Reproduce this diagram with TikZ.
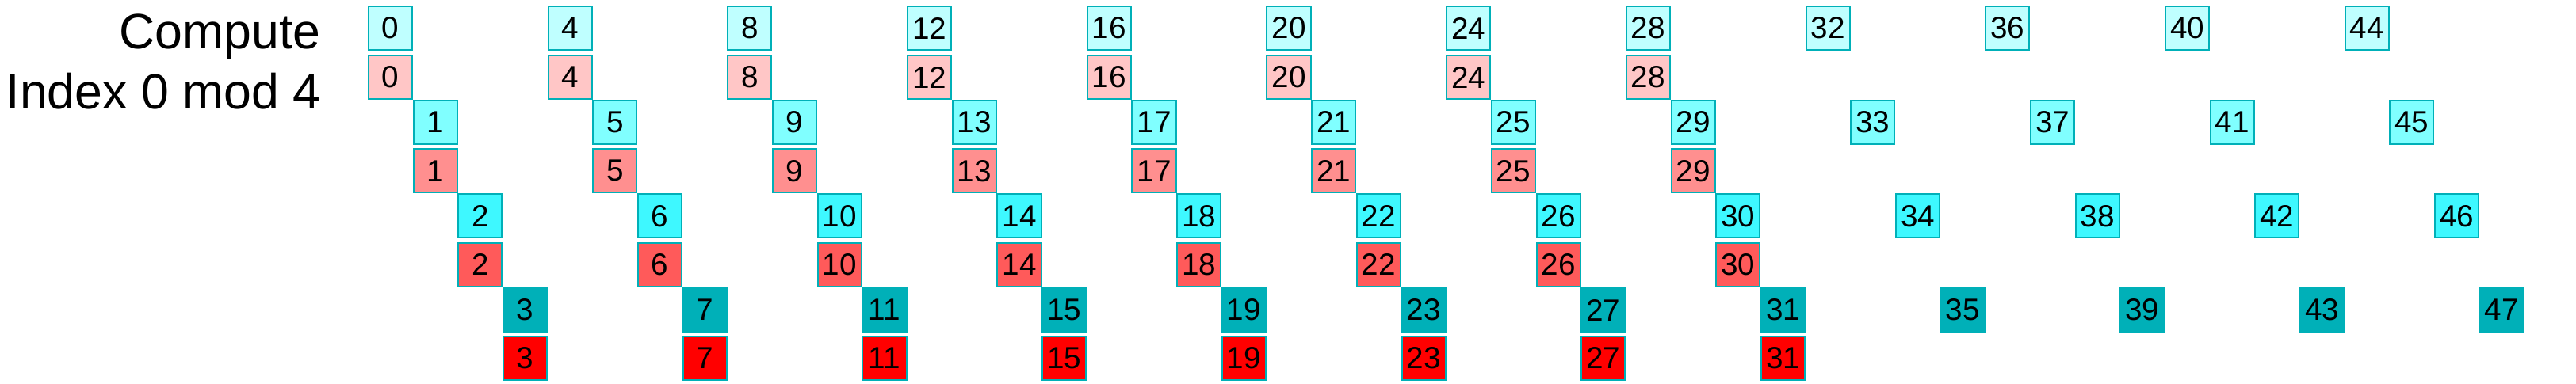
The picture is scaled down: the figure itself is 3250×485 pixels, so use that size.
\documentclass[tikz,border=0pt]{standalone}
\usepackage{fontspec}
\setmainfont{Liberation Sans}
\definecolor{edge}{HTML}{00B0B8}
\definecolor{cy0}{HTML}{BFFFFF}
\definecolor{cy1}{HTML}{80FFFF}
\definecolor{cy2}{HTML}{3EF8FF}
\definecolor{cy3}{HTML}{00B0B8}
\definecolor{rd0}{HTML}{FFC6C6}
\definecolor{rd1}{HTML}{FF8F8F}
\definecolor{rd2}{HTML}{FF5A5A}
\definecolor{rd3}{HTML}{FF0000}
\begin{document}
\begin{tikzpicture}[x=0.01cm,y=-0.01cm,
  box/.style={draw=edge, line width=0.02cm, minimum width=0.55cm, minimum height=0.55cm, inner sep=0pt, font=\fontsize{11}{11}\selectfont},
  label/.style={anchor=base east, inner sep=0pt, font=\fontsize{17.8}{17.8}\selectfont}]
\useasboundingbox (0,0) rectangle (3250,485);
\node[label] (t1) at (405,62) {Compute};
\node[label] (t2) at (405,138) {Index 0 mod 4};
\foreach \g in {0,...,11}{
  \foreach \k in {0,...,3}{
    \pgfmathtruncatemacro\n{4*\g+\k}
    \node[box, fill=cy\k] (c\n) at ({464+226.7*\g+56.7*\k+28.5},{7+118.7*\k+28.5}) {\n};
  }
}
\foreach \g in {0,...,7}{
  \foreach \k in {0,...,3}{
    \pgfmathtruncatemacro\n{4*\g+\k}
    \node[box, fill=rd\k] (r\n) at ({464+226.7*\g+56.7*\k+28.5},{69+118.3*\k+28.5}) {\n};
  }
}
\end{tikzpicture}
\end{document}
